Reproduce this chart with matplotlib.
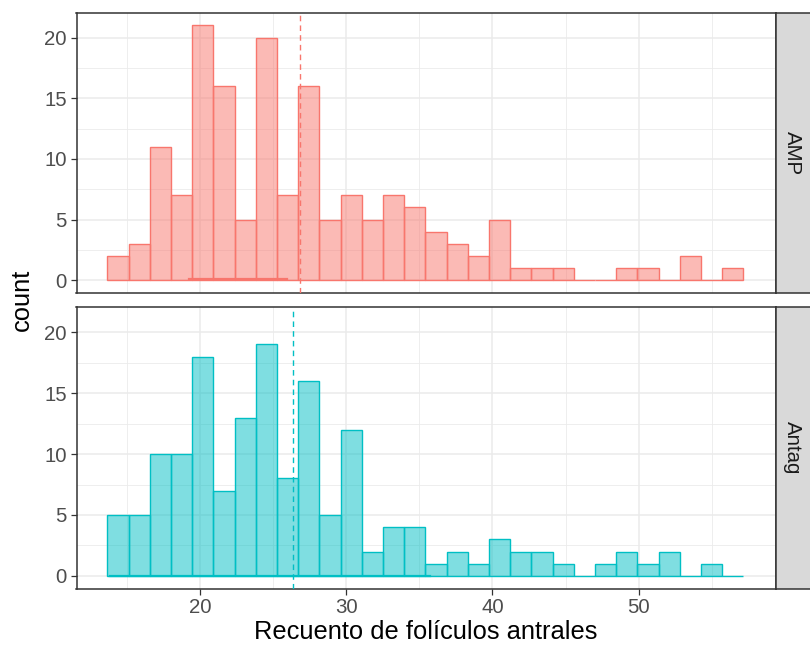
#!/usr/bin/env python3

import matplotlib
matplotlib.use('Agg')
import matplotlib.pyplot as plt
import numpy as np

plt.rcParams['font.family'] = ['Liberation Sans', 'DejaVu Sans']

# Histogram data (30 bins)
groups = ['AMP', 'Antag']
amp_counts = [2, 3, 11, 7, 21, 16, 5, 20, 7, 16, 5, 7, 5, 7, 6,
              4, 3, 2, 5, 1, 1, 1, 0, 0, 1, 1, 0, 2, 0, 1]
antag_counts = [5, 5, 10, 10, 18, 7, 13, 19, 8, 16, 5, 12, 2, 4, 4,
                1, 2, 1, 3, 2, 2, 1, 0, 1, 2, 1, 2, 0, 1, 0]
bin_start = 13.66
bin_width = 1.45
group_means = [26.84, 26.38]
# flat zero-height overlays visible on the baseline
overlay_from = [19.25, 13.84]
overlay_to = [25.96, 35.75]
overlay_y = [0.14, 0.0]

colors = ['#F8766D', '#00BFC4']
x_ticks = [20, 30, 40, 50]
y_ticks = [0, 5, 10, 15, 20]

W, H = 810, 653
fig = plt.figure(figsize=(W / 100, H / 100), dpi=100)

panels = [(12.7, 293.0), (307.3, 588.7)]
left, right = 76.5, 775.5
strip_w = 40

edges = bin_start + bin_width * np.arange(31)
all_counts = [amp_counts, antag_counts]

axes = []
for i, (top, bot) in enumerate(panels):
    ax = fig.add_axes([left / W, 1 - bot / H, (right - left) / W, (bot - top) / H])
    axes.append(ax)
    counts = all_counts[i]
    ax.bar(edges[:-1], counts, width=bin_width, align='edge',
           color=colors[i], alpha=0.5, edgecolor='none', zorder=3)
    ax.bar(edges[:-1], counts, width=bin_width, align='edge',
           facecolor='none', edgecolor=colors[i], linewidth=1.0, zorder=4)
    ax.plot([overlay_from[i], overlay_to[i]], [overlay_y[i], overlay_y[i]],
            color=colors[i], linewidth=1.6, zorder=5)
    ax.axvline(group_means[i], color=colors[i], linestyle=(0, (4, 3)),
               linewidth=1.0, zorder=6)

    ax.set_xlim(11.55, 59.36)
    ax.set_ylim(-1.05, 22.05)
    ax.set_xticks(x_ticks)
    ax.set_xticks([15, 25, 35, 45, 55], minor=True)
    ax.set_yticks(y_ticks)
    ax.set_yticks([2.5, 7.5, 12.5, 17.5], minor=True)
    ax.grid(which='major', color='#EBEBEB', linewidth=1.1, zorder=0)
    ax.grid(which='minor', color='#EBEBEB', linewidth=0.6, zorder=0)
    ax.set_axisbelow(True)
    for s in ax.spines.values():
        s.set_color('#333333')
        s.set_linewidth(1.1)
    ax.tick_params(which='major', length=4, width=0.9, color='#333333',
                   labelsize=14.7, labelcolor='#4D4D4D', pad=3)
    ax.tick_params(which='minor', length=0)
    if i == 0:
        ax.tick_params(axis='x', which='both', bottom=False, labelbottom=False)

    # facet strip
    sax = fig.add_axes([right / W, 1 - bot / H, strip_w / W, (bot - top) / H])
    sax.set_facecolor('#D9D9D9')
    sax.set_xticks([])
    sax.set_yticks([])
    for s in sax.spines.values():
        s.set_color('#333333')
        s.set_linewidth(1.1)
    sax.text(0.42, 0.5, groups[i], rotation=-90, ha='center', va='center',
             fontsize=14.7, color='#1A1A1A', transform=sax.transAxes)

axes[1].set_xlabel('Recuento de folículos antrales', fontsize=18.4, labelpad=2)
fig.text(22 / W, 1 - 300 / H, 'count', rotation=90, ha='center', va='center',
         fontsize=18.4)

plt.savefig('out.png', dpi=100)
